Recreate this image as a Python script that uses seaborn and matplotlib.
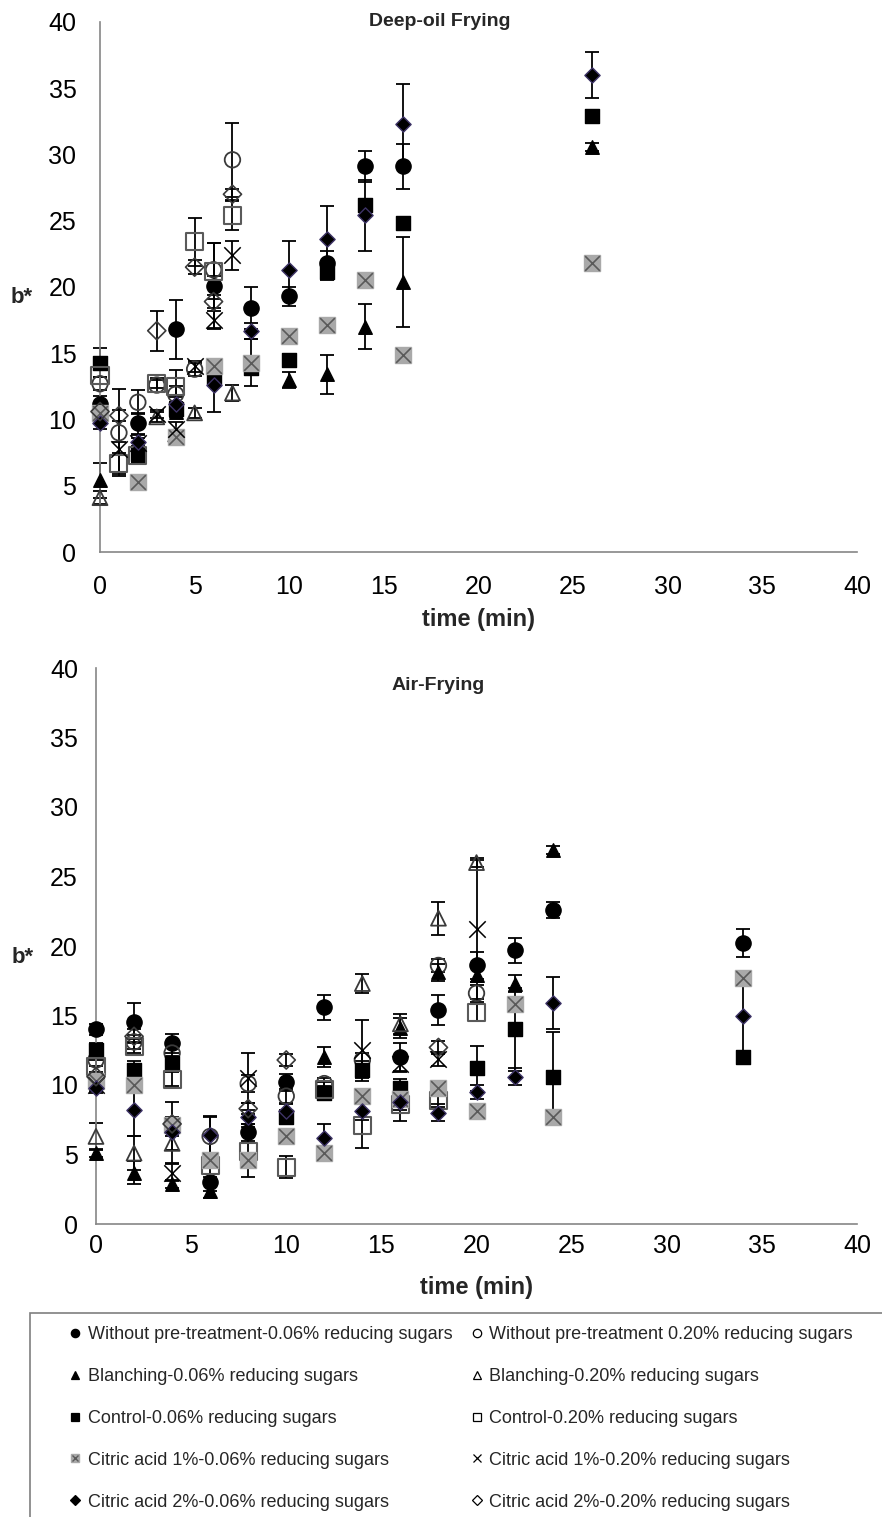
import numpy as np
import pandas as pd
import seaborn as sns
import matplotlib.pyplot as plt
from matplotlib.lines import Line2D
from matplotlib.patches import Rectangle

# time grids (min)
deep_t = [0, 1, 2, 3, 4, 5, 6, 7, 8, 10, 12, 14, 16, 26]
air_t = [0, 2, 4, 6, 8, 10, 12, 14, 16, 18, 20, 22, 24, 34]
nan = np.nan

# ---- Deep-oil frying, b* values and error bars ----
deep_wo006 = [11.2, nan, 9.7, nan, 16.8, nan, 20.1, nan, 18.4, 19.3, 21.8, 29.1, 29.1, nan]
deep_wo006_err = [0.6, nan, 0.8, nan, 2.2, nan, 3.2, nan, 1.6, 0.7, 0.9, 1.2, 1.7, nan]
deep_wo020 = [12.7, 9.0, 11.3, 12.6, 11.9, 13.8, 21.3, 29.6, nan, nan, nan, nan, nan, nan]
deep_wo020_err = [0.5, 3.3, 0.9, 0.5, 0.6, 0.5, 0.5, 2.8, nan, nan, nan, nan, nan, nan]
deep_bl006 = [5.4, nan, 7.6, nan, 10.6, nan, 13.3, nan, 14.0, 13.0, 13.4, 17.0, 20.4, 30.6]
deep_bl006_err = [1.3, nan, 0.6, nan, 0.4, nan, 0.5, nan, 0.4, 0.6, 1.5, 1.7, 3.4, 0.3]
deep_bl020 = [4.1, nan, nan, 10.2, 8.9, 10.5, nan, 12.0, nan, nan, nan, nan, nan, nan]
deep_bl020_err = [0.5, nan, nan, 0.4, 0.3, 0.4, nan, 0.6, nan, nan, nan, nan, nan, nan]
deep_co006 = [14.3, nan, 7.4, nan, 10.8, nan, 13.2, nan, 13.9, 14.5, 21.1, 26.2, 24.8, 32.9]
deep_co006_err = [1.1, nan, 0.6, nan, 0.5, nan, 0.6, nan, 0.4, 0.4, 0.6, 0.4, 0.4, 0.3]
deep_co020 = [13.3, 6.7, 7.3, 12.7, 12.5, 23.4, 21.2, 25.4, nan, nan, nan, nan, nan, nan]
deep_co020_err = [0.6, 0.8, 0.6, 0.3, 1.2, 1.8, 2.1, 1.1, nan, nan, nan, nan, nan, nan]
deep_ca1006 = [10.5, nan, 5.3, nan, 8.7, nan, 14.0, nan, 14.3, 16.3, 17.1, 20.5, 14.9, 21.8]
deep_ca1006_err = [0.4, nan, 0.3, nan, 0.4, nan, 0.4, nan, 1.8, 0.3, 0.4, 0.3, 0.3, 0.3]
deep_ca1020 = [nan, 7.8, 8.2, 10.4, 9.3, 14.0, 17.5, 22.4, nan, nan, nan, nan, nan, nan]
deep_ca1020_err = [nan, 0.5, 0.4, 0.3, 0.5, 0.4, 0.7, 1.1, nan, nan, nan, nan, nan, nan]
deep_ca2006 = [9.7, nan, 8.3, nan, 11.2, nan, 12.6, nan, 16.7, 21.3, 23.6, 25.4, 32.3, 36.0]
deep_ca2006_err = [0.4, nan, 0.5, nan, 0.5, nan, 2.0, nan, 0.6, 2.2, 2.5, 2.7, 3.0, 1.7]
deep_ca2020 = [10.6, 10.3, nan, 16.7, nan, 21.5, 18.9, 27.0, nan, nan, nan, nan, nan, nan]
deep_ca2020_err = [0.3, 0.4, nan, 1.5, nan, 0.5, 0.5, 0.4, nan, nan, nan, nan, nan, nan]

# ---- Air-frying ----
air_wo006 = [14.0, 14.5, 13.0, 3.0, 6.6, 10.2, 15.6, nan, 12.0, 15.4, 18.6, 19.7, 22.6, 20.2]
air_wo006_err = [0.4, 1.4, 0.7, 0.6, 0.6, 0.6, 0.9, nan, 1.0, 1.1, 1.0, 0.9, 0.6, 1.0]
air_wo020 = [11.8, 13.1, 12.3, 6.3, 10.1, 9.2, 10.1, 11.8, 9.0, 18.6, 16.6, nan, nan, nan]
air_wo020_err = [0.4, 0.5, 0.5, 1.4, 0.6, 0.5, 0.4, 0.5, 0.5, 0.5, 0.6, nan, nan, nan]
air_bl006 = [5.1, 3.7, 2.9, 2.4, nan, nan, 12.0, nan, 14.1, 18.1, 17.9, 17.3, 26.9, nan]
air_bl006_err = [0.3, 0.8, 0.3, 0.5, nan, nan, 0.7, nan, 0.7, 0.6, 0.5, 0.6, 0.3, nan]
air_bl020 = [6.3, 5.1, 5.8, nan, nan, nan, nan, 17.3, 14.4, 22.0, 26.0, nan, nan, nan]
air_bl020_err = [1.0, 1.2, 0.5, nan, nan, nan, nan, 0.7, 0.7, 1.2, 0.3, nan, nan, nan]
air_co006 = [12.5, 11.1, 11.6, nan, nan, 7.7, 9.4, 11.1, 9.8, nan, 11.2, 14.0, 10.6, 12.0]
air_co006_err = [0.5, 0.6, 0.5, nan, nan, 0.5, 0.5, 0.6, 0.6, nan, 1.6, 3.0, 3.2, 0.4]
air_co020 = [11.3, 12.8, 10.4, 4.2, 5.2, 4.1, 9.7, 7.1, 8.6, 8.9, 15.2, nan, nan, nan]
air_co020_err = [0.5, 0.5, 0.5, 0.8, 1.8, 0.8, 0.5, 1.6, 1.2, 0.5, 0.6, nan, nan, nan]
air_ca1006 = [10.3, 10.0, 7.1, 4.6, 4.6, 6.3, 5.1, 9.2, 9.0, 9.8, 8.1, 15.8, 7.7, 17.7]
air_ca1006_err = [0.4, 0.4, 0.5, 0.4, 0.4, 0.4, 0.3, 0.4, 0.4, 0.4, 0.5, 0.4, 0.4, 0.4]
air_ca1020 = [10.0, nan, 3.7, nan, 10.5, nan, nan, 12.5, 11.5, 11.9, 21.2, nan, nan, nan]
air_ca1020_err = [0.4, nan, 0.6, nan, 1.8, nan, nan, 2.2, 0.6, 0.5, 5.0, nan, nan, nan]
air_ca2006 = [9.8, 8.2, 6.6, 6.4, 7.7, 8.1, 6.2, 8.1, 8.8, 8.0, 9.5, 10.6, 15.9, 15.0]
air_ca2006_err = [0.4, 1.9, 2.2, 1.4, 0.5, 0.5, 1.0, 0.6, 0.6, 0.6, 0.5, 0.6, 1.9, 2.7]
air_ca2020 = [10.6, 13.5, 7.2, nan, 8.3, 11.8, nan, nan, nan, 12.7, nan, nan, nan, nan]
air_ca2020_err = [0.3, 0.5, 0.5, nan, 0.4, 0.4, nan, nan, nan, 0.5, nan, nan, nan, nan]

labels = [
    'Without pre-treatment-0.06% reducing sugars',
    'Without pre-treatment 0.20% reducing sugars',
    'Blanching-0.06% reducing sugars',
    'Blanching-0.20% reducing sugars',
    'Control-0.06% reducing sugars',
    'Control-0.20% reducing sugars',
    'Citric acid 1%-0.06% reducing sugars',
    'Citric acid 1%-0.20% reducing sugars',
    'Citric acid 2%-0.06% reducing sugars',
    'Citric acid 2%-0.20% reducing sugars',
]

deep_series = [(deep_wo006, deep_wo006_err), (deep_wo020, deep_wo020_err),
               (deep_bl006, deep_bl006_err), (deep_bl020, deep_bl020_err),
               (deep_co006, deep_co006_err), (deep_co020, deep_co020_err),
               (deep_ca1006, deep_ca1006_err), (deep_ca1020, deep_ca1020_err),
               (deep_ca2006, deep_ca2006_err), (deep_ca2020, deep_ca2020_err)]
air_series = [(air_wo006, air_wo006_err), (air_wo020, air_wo020_err),
              (air_bl006, air_bl006_err), (air_bl020, air_bl020_err),
              (air_co006, air_co006_err), (air_co020, air_co020_err),
              (air_ca1006, air_ca1006_err), (air_ca1020, air_ca1020_err),
              (air_ca2006, air_ca2006_err), (air_ca2020, air_ca2020_err)]

GRAY_FILL = '#a9a9a9'
GRAY_X = '#5a5a5a'
# marker, size, facecolor, edgecolor, linewidth
styles = [
    ('o', 120, 'black', 'black', 1.0),
    ('o', 125, 'none', '#3a3a3a', 1.3),
    ('^', 95, 'black', 'black', 1.0),
    ('^', 115, 'none', '#3a3a3a', 1.3),
    ('s', 115, 'black', 'black', 1.0),
    ('s', 150, 'none', '#5a5a5a', 1.5),
    ('s', 140, GRAY_FILL, GRAY_FILL, 1.0),   # plus x overlay
    ('x', 140, 'black', None, 1.1),
    ('D', 60, 'black', '#3d3366', 1.0),
    ('D', 85, 'none', '#3a3a3a', 1.2),
]

sns.set_style('white')
plt.rcParams['font.family'] = ['Liberation Sans', 'DejaVu Sans']

fig = plt.figure(figsize=(8.82, 15.17), dpi=100)
W, H = 882, 1517
ax_top = fig.add_axes([100 / W, 1 - 552 / H, 757 / W, 530 / H])
ax_bot = fig.add_axes([96 / W, 1 - 1224 / H, 761 / W, 556 / H])


def draw_panel(ax, times, series, title, title_y, xlab_y, ylab_x, xpad, ypad):
    for (vals, errs), (mk, s, fc, ec, lw) in zip(series, styles):
        df = pd.DataFrame({'t': times, 'v': vals, 'e': errs}).dropna(subset=['v'])
        df['e'] = df['e'].fillna(0)
        ax.errorbar(df['t'], df['v'], yerr=df['e'], fmt='none', ecolor='black',
                    elinewidth=1.3, capsize=5, capthick=1.3, zorder=2, clip_on=False)
        if mk == 'x':
            sns.scatterplot(data=df, x='t', y='v', marker='x', s=s, color=fc,
                            edgecolor=None, linewidth=lw, ax=ax, zorder=3,
                            legend=False, clip_on=False)
        else:
            sns.scatterplot(data=df, x='t', y='v', marker=mk, s=s, facecolor=fc,
                            edgecolor=ec, linewidth=lw, ax=ax, zorder=3,
                            legend=False, clip_on=False)
        if fc == GRAY_FILL:
            sns.scatterplot(data=df, x='t', y='v', marker='x', s=s * 0.8, color=GRAY_X,
                            edgecolor=None, linewidth=1.2, ax=ax, zorder=3,
                            legend=False, clip_on=False)
    ax.set_xlim(0, 40)
    ax.set_ylim(0, 40)
    ax.set_xticks(range(0, 41, 5))
    ax.set_yticks(range(0, 41, 5))
    ax.tick_params(axis='both', direction='out', length=5, width=1, color='#868686',
                   labelsize=18, labelcolor='black')
    ax.tick_params(axis='x', pad=xpad)
    ax.tick_params(axis='y', pad=ypad)
    for side in ['top', 'right']:
        ax.spines[side].set_visible(False)
    for side in ['left', 'bottom']:
        ax.spines[side].set_color('#868686')
        ax.spines[side].set_linewidth(1.2)
    ax.set_xlabel('')
    ax.set_ylabel('')
    ax.text(0.449, title_y, title, transform=ax.transAxes, ha='center', va='center',
            fontsize=14, fontweight='bold')
    ax.text(0.5, xlab_y, 'time (min)', transform=ax.transAxes, ha='center', va='center',
            fontsize=17, fontweight='bold')
    ax.text(ylab_x, 0.48, 'b*', transform=ax.transAxes, ha='center', va='center',
            fontsize=16, fontweight='bold')


draw_panel(ax_top, deep_t, deep_series, 'Deep-oil Frying', 1.0, -0.128, -0.103, 11.5, 12)
draw_panel(ax_bot, air_t, air_series, 'Air-Frying', 0.968, -0.115, -0.097, 2.5, 8)

# legend handles
handles = []
for mk, s, fc, ec, lw in styles:
    if mk == 'x':
        handles.append(Line2D([], [], ls='none', marker='x', color='black', markersize=6, mew=0.9))
    elif fc == GRAY_FILL:
        h1 = Line2D([], [], ls='none', marker='s', markerfacecolor=GRAY_FILL,
                    markeredgecolor=GRAY_FILL, markersize=6)
        h2 = Line2D([], [], ls='none', marker='x', color=GRAY_X, markersize=5, mew=1)
        handles.append((h1, h2))
    else:
        handles.append(Line2D([], [], ls='none', marker=mk,
                              markerfacecolor='white' if fc == 'none' else fc,
                              markeredgecolor='black', markersize=6 if mk != 'D' else 5,
                              mew=0.9))

# legend frame runs off the right and bottom edges like in the source
fig.patches.append(Rectangle((30 / W, -0.02), 1.0, (1517 - 1313) / H + 0.02,
                             transform=fig.transFigure, fill=False,
                             edgecolor='#7f7f7f', linewidth=1.2))

order = [0, 2, 4, 6, 8, 1, 3, 5, 7, 9]
leg = fig.legend([handles[i] for i in order], [labels[i] for i in order], ncol=2,
                 loc='upper left', bbox_to_anchor=(68 / W, 1 - 1326 / H),
                 frameon=False, borderaxespad=0, borderpad=0,
                 labelspacing=1.38, handlelength=0.8, handletextpad=0.3,
                 columnspacing=0.95,
                 prop={'family': ['Liberation Sans Narrow', 'Liberation Sans', 'DejaVu Sans'],
                       'size': 13})

fig.savefig('out.png', dpi=100)
